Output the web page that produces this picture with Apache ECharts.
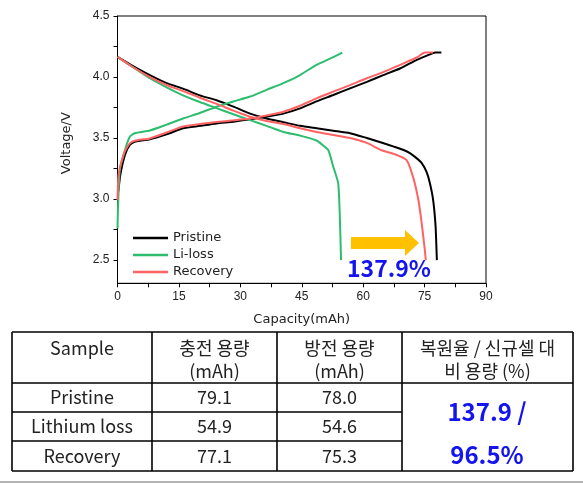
<!DOCTYPE html>
<html>
<head>
<meta charset="utf-8">
<script src="https://cdn.jsdelivr.net/npm/echarts@6/dist/echarts.min.js"></script>
<style>
html,body{margin:0;padding:0;background:#fff;}
#chart{width:583px;height:483px;}
</style>
</head>
<body>
<div id="chart"></div>
<script>
// ---- data ----
const seriesNames = ['Pristine', 'Li-loss', 'Recovery'];
const pristineCharge = [[0.2,3.06],[0.7,3.2],[1.8,3.36],[3.0,3.443],[4.2,3.47],[7.9,3.49],[12,3.53],[16,3.58],[20.1,3.60],[24.2,3.62],[28.3,3.634],[32.4,3.653],[36.4,3.675],[40.5,3.70],[44.6,3.743],[48.6,3.80],[52.7,3.853],[56.8,3.907],[60.9,3.96],[64.9,4.016],[69,4.07],[73.1,4.14],[76.3,4.186],[77.6,4.2],[79.1,4.2]];
const pristineDischarge = [[0,4.165],[3.8,4.09],[7.9,4.016],[12,3.95],[16,3.905],[20.1,3.85],[24.2,3.81],[28.3,3.757],[32.4,3.70],[36.4,3.66],[40.5,3.63],[44.6,3.60],[48.6,3.58],[52.7,3.56],[56.8,3.54],[60.9,3.50],[64.8,3.46],[67.5,3.43],[70.7,3.39],[72.5,3.35],[74.3,3.295],[75.5,3.22],[76.3,3.13],[77.1,2.99],[77.7,2.77],[78.0,2.5]];
const lilossCharge = [[0,2.76],[0.1,2.9],[0.56,3.24],[1.8,3.40],[3.0,3.51],[4.2,3.54],[7.9,3.562],[12,3.61],[16,3.66],[20.1,3.705],[24.2,3.757],[28.3,3.80],[32.4,3.84],[36.4,3.895],[40.5,3.95],[44.6,4.016],[48.6,4.10],[51.9,4.15],[54.9,4.2]];
const lilossDischarge = [[0,4.165],[3.8,4.08],[7.9,3.99],[12,3.915],[16,3.85],[20.1,3.795],[24.2,3.745],[28.3,3.695],[32.4,3.647],[36.4,3.60],[40.5,3.55],[44.6,3.52],[48.6,3.48],[50.2,3.44],[51.5,3.40],[52.7,3.265],[53.9,3.13],[54.3,2.855],[54.6,2.5]];
const recoveryCharge = [[0,2.99],[0.2,3.18],[0.6,3.26],[1.8,3.39],[3.0,3.456],[4.2,3.478],[7.9,3.497],[12,3.545],[16,3.595],[20.1,3.615],[24.2,3.632],[28.3,3.645],[32.4,3.66],[36.4,3.685],[40.5,3.716],[44.6,3.765],[48.6,3.825],[52.7,3.88],[56.8,3.934],[60.9,3.99],[64.9,4.04],[69,4.10],[73.1,4.16],[75.1,4.2],[77.1,4.2]];
const recoveryDischarge = [[0,4.165],[3.8,4.08],[7.9,4.0],[12,3.935],[16,3.885],[20.1,3.83],[24.2,3.78],[28.3,3.725],[32.4,3.675],[36.4,3.64],[40.5,3.615],[44.6,3.58],[48.6,3.55],[52.7,3.525],[56.8,3.50],[60.9,3.46],[64.5,3.40],[67.5,3.37],[70.6,3.32],[72.2,3.18],[73.5,2.99],[74.3,2.80],[75.0,2.6],[75.3,2.5]];
const xTickLabels = [0, 15, 30, 45, 60, 75, 90];
const xTicks = [0, 7.5, 15, 22.5, 30, 37.5, 45, 52.5, 60, 67.5, 75, 82.5, 90];
const yTickLabels = [2.5, 3.0, 3.5, 4.0, 4.5];
const yTicks = [2.5, 2.75, 3.0, 3.25, 3.5, 3.75, 4.0, 4.25, 4.5];
const recoveryAnnotation = '137.9%';

const tableHeader = [['Sample'], ['충전 용량', '(mAh)'], ['방전 용량', '(mAh)'], ['복원율 / 신규셀 대', '비 용량 (%)']];
const tableSamples = ['Pristine', 'Lithium loss', 'Recovery'];
const chargeCapacity = ['79.1', '54.9', '77.1'];
const dischargeCapacity = ['78.0', '54.6', '75.3'];
const recoveryRatio = ['137.9 /', '96.5%'];

// ---- styles ----
const colors = ['#000000', '#2dbd6e', '#ff6262'];
const KR = '"Noto Sans CJK KR", "Noto Sans", sans-serif';
const legendLineIcon = 'path://M0,0L0.01,0L0.01,0.01L0,0.01Z M0,5.8L35,5.8L35,8.2L0,8.2Z M34.99,13.99L35,13.99L35,14L34.99,14Z';

const chart = echarts.init(document.getElementById('chart'), null, {renderer: 'canvas'});

function lineSeries(name, data, color) {
  return {
    name: name, type: 'line', data: data, symbol: 'none', showSymbol: false, smooth: 0.2,
    lineStyle: {color: color, width: 2}, itemStyle: {color: color},
    animation: false, z: 3
  };
}

const series = [
  lineSeries(seriesNames[0], pristineCharge, colors[0]),
  lineSeries(seriesNames[0], pristineDischarge, colors[0]),
  lineSeries(seriesNames[1], lilossCharge, colors[1]),
  lineSeries(seriesNames[1], lilossDischarge, colors[1]),
  lineSeries(seriesNames[2], recoveryCharge, colors[2]),
  lineSeries(seriesNames[2], recoveryDischarge, colors[2])
];

// table graphics
const colX = [12, 152, 277, 402, 573];
const rowY = [332, 383, 412, 441, 471];
const g = [];
const border = {stroke: '#000', lineWidth: 1.6};
g.push({type: 'line', shape: {x1: colX[0], y1: rowY[0], x2: colX[4], y2: rowY[0]}, style: border});
g.push({type: 'line', shape: {x1: colX[0], y1: rowY[1], x2: colX[4], y2: rowY[1]}, style: border});
g.push({type: 'line', shape: {x1: colX[0], y1: rowY[2], x2: colX[3], y2: rowY[2]}, style: border});
g.push({type: 'line', shape: {x1: colX[0], y1: rowY[3], x2: colX[3], y2: rowY[3]}, style: border});
g.push({type: 'line', shape: {x1: colX[0], y1: rowY[4], x2: colX[4], y2: rowY[4]}, style: border});
colX.forEach(function (x) {
  g.push({type: 'line', shape: {x1: x, y1: rowY[0], x2: x, y2: rowY[4]}, style: border});
});
function cellText(text, x, y, opts) {
  opts = opts || {};
  return {type: 'text', style: {
    text: text, x: x, y: y, align: 'center', verticalAlign: 'middle',
    fill: opts.fill || '#222', fontSize: opts.size || 18, fontWeight: opts.weight || 'normal',
    fontFamily: KR
  }, z: 10};
}
tableHeader.forEach(function (lines, c) {
  const cx = (colX[c] + colX[c + 1]) / 2;
  g.push(cellText(lines[0], cx, 348));
  if (lines.length > 1) g.push(cellText(lines[1], cx, 371));
});
tableSamples.forEach(function (s, r) {
  const cy = (rowY[r + 1] + rowY[r + 2]) / 2;
  g.push(cellText(s, (colX[0] + colX[1]) / 2, cy));
  g.push(cellText(chargeCapacity[r], (colX[1] + colX[2]) / 2, cy));
  g.push(cellText(dischargeCapacity[r], (colX[2] + colX[3]) / 2, cy));
});
g.push(cellText(recoveryRatio[0], 487, 412, {fill: '#1414ee', size: 24, weight: 'bold'}));
g.push(cellText(recoveryRatio[1], 487, 455, {fill: '#1414ee', size: 24, weight: 'bold'}));
g.push({type: 'rect', shape: {x: 0, y: 481, width: 583, height: 2}, style: {fill: '#b4b4b4'}});
g.push({type: 'polygon', shape: {points: [[351, 237], [405, 237], [405, 230], [419, 243], [405, 256], [405, 249], [351, 249]]}, style: {fill: '#ffc000'}, z: 5});
g.push({type: 'text', style: {text: recoveryAnnotation, x: 389, y: 268, align: 'center', verticalAlign: 'middle', fill: '#1414ee', fontSize: 23, fontWeight: 'bold', fontFamily: KR}, z: 5});

const option = {
  animation: false,
  backgroundColor: '#fff',
  grid: {left: 117.5, right: 97, top: 16, bottom: 199.7, show: true, borderColor: '#000', borderWidth: 1, backgroundColor: 'transparent'},
  legend: {
    data: seriesNames.map(function (n, i) { return {name: n, icon: legendLineIcon, itemStyle: {color: colors[i]}}; }),
    orient: 'vertical', left: 128, top: 226,
    itemWidth: 35, itemHeight: 14, itemGap: 3,
    textStyle: {fontFamily: 'DejaVu Sans', fontSize: 13, color: '#222'},
    selectedMode: false
  },
  xAxis: {
    type: 'value', min: 0, max: 90,
    name: 'Capacity(mAh)', nameLocation: 'middle', nameGap: 30,
    nameTextStyle: {fontFamily: 'DejaVu Sans', fontSize: 13, color: '#222'},
    axisLine: {show: true, onZero: false, lineStyle: {color: '#000', width: 1}},
    axisTick: {show: true, length: 4, lineStyle: {color: '#000'}, customValues: xTicks},
    axisLabel: {fontFamily: 'Liberation Sans', fontSize: 12, color: '#222', margin: 7, customValues: xTickLabels},
    splitLine: {show: false}
  },
  yAxis: {
    type: 'value', min: 2.31, max: 4.5,
    name: 'Voltage/V', nameLocation: 'middle', nameGap: 44, nameRotate: 90,
    nameTextStyle: {fontFamily: 'DejaVu Sans', fontSize: 13, color: '#222', padding: [0, 0, 0, 13]},
    axisLine: {show: true, onZero: false, lineStyle: {color: '#000', width: 1}},
    axisTick: {show: true, length: 4, lineStyle: {color: '#000'}, customValues: yTicks},
    axisLabel: {fontFamily: 'Liberation Sans', fontSize: 12, color: '#222', margin: 8, customValues: yTickLabels,
      formatter: function (v) { return Number(v).toFixed(1); }},
    splitLine: {show: false}
  },
  series: series,
  graphic: {elements: g}
};
chart.setOption(option);
</script>
</body>
</html>
